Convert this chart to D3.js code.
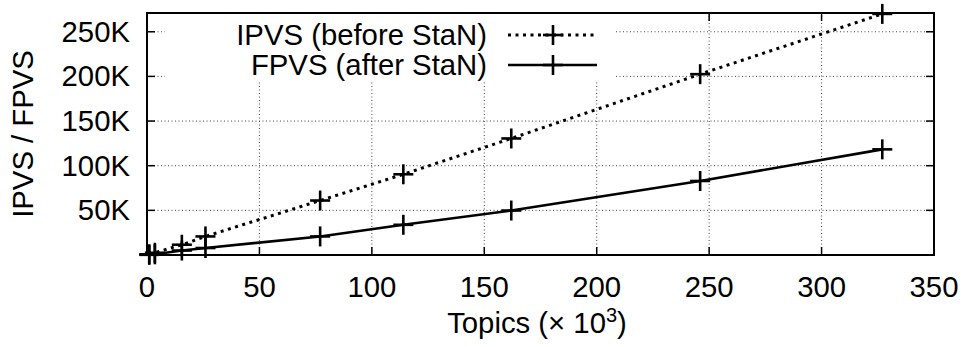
<!DOCTYPE html>
<html>
<head>
<meta charset="utf-8">
<script src="https://cdn.jsdelivr.net/npm/d3@7"></script>
<style>
  html, body { margin: 0; padding: 0; background: #fff; }
  svg { display: block; font-family: "Liberation Sans", Arial, Helvetica, sans-serif; }
</style>
</head>
<body>
<svg id="chart" width="965" height="347"></svg>
<script>
// Topics (thousands) and vocabulary sizes before / after StaN
const topics = [1, 3.5, 15.5, 26, 77, 114, 162, 246, 327];
const ipvs = [800, 2500, 11500, 20800, 61000, 90400, 130500, 202500, 270000];
const fpvs = [200, 800, 5000, 7800, 20800, 33800, 49800, 82900, 118300];
const xTicks = [0, 50, 100, 150, 200, 250, 300, 350];
const yTicks = [50000, 100000, 150000, 200000, 250000];
const seriesNames = ["IPVS (before StaN)", "FPVS (after StaN)"];

const svg = d3.select("#chart");
const m = { left: 147, right: 934, top: 13, bottom: 255 };
const fs = 29.3;

const x = d3.scaleLinear().domain([0, 350]).range([m.left, m.right]);
const y = d3.scaleLinear().domain([0, 271000]).range([m.bottom, m.top]);

// dotted grid
const grid = svg.append("g").attr("stroke", "#444").attr("stroke-width", 1)
  .attr("stroke-dasharray", "1,2.5");
grid.selectAll("line.gx").data(xTicks.filter(d => d > 0 && d < 350)).join("line")
  .attr("x1", d => x(d)).attr("x2", d => x(d))
  .attr("y1", m.bottom).attr("y2", m.top);
grid.selectAll("line.gy").data(yTicks).join("line")
  .attr("x1", m.left).attr("x2", m.right)
  .attr("y1", d => y(d)).attr("y2", d => y(d));

// inward ticks on all four sides
const tl = 8;
const ticks = svg.append("g").attr("stroke", "#000").attr("stroke-width", 1.5);
xTicks.forEach(d => {
  ticks.append("line").attr("x1", x(d)).attr("x2", x(d)).attr("y1", m.bottom).attr("y2", m.bottom - tl);
  ticks.append("line").attr("x1", x(d)).attr("x2", x(d)).attr("y1", m.top).attr("y2", m.top + tl);
});
yTicks.forEach(d => {
  ticks.append("line").attr("x1", m.left).attr("x2", m.left + tl).attr("y1", y(d)).attr("y2", y(d));
  ticks.append("line").attr("x1", m.right).attr("x2", m.right - tl).attr("y1", y(d)).attr("y2", y(d));
});

// tick labels
svg.append("g").selectAll("text").data(xTicks).join("text")
  .attr("x", d => x(d)).attr("y", 297).attr("text-anchor", "middle")
  .attr("font-size", fs).text(d => d);
svg.append("g").selectAll("text").data(yTicks).join("text")
  .attr("x", 130).attr("y", d => y(d) + 10).attr("text-anchor", "end")
  .attr("font-size", fs).text(d => d3.format("d")(d / 1000) + "K");

// axis titles
svg.append("text").attr("transform", "translate(33,134) rotate(-90)")
  .attr("text-anchor", "middle").attr("font-size", fs).text("IPVS / FPVS");
const xt = svg.append("text").attr("x", 537).attr("y", 333)
  .attr("text-anchor", "middle").attr("font-size", fs);
xt.append("tspan").text("Topics (× 10");
xt.append("tspan").attr("font-size", 20).attr("dy", -11).text("3");
xt.append("tspan").attr("dy", 11).text(")");

// legend background hides the grid beneath it
svg.append("rect").attr("x", 165).attr("y", m.top + 1).attr("width", 450).attr("height", 68)
  .attr("fill", "#fff");

// series
const line = d3.line().x(d => x(d[0])).y(d => y(d[1]));
const styles = [
  { data: ipvs, dash: "3,4.5", width: 3 },
  { data: fpvs, dash: null, width: 2.6 }
];
const cross = 10;
function drawCross(g, cx, cy) {
  g.append("line").attr("x1", cx - cross).attr("x2", cx + cross).attr("y1", cy).attr("y2", cy);
  g.append("line").attr("x1", cx).attr("x2", cx).attr("y1", cy - cross).attr("y2", cy + cross);
}
styles.forEach((s, i) => {
  const pts = topics.map((t, j) => [t, s.data[j]]);
  svg.append("path").datum(pts).attr("d", line).attr("fill", "none")
    .attr("stroke", "#000").attr("stroke-width", s.width)
    .attr("stroke-dasharray", s.dash);
  const g = svg.append("g").attr("stroke", "#000").attr("stroke-width", 2.6);
  pts.forEach(p => drawCross(g, x(p[0]), y(p[1])));

  // legend entry
  const ly = 35 + i * 30;
  svg.append("text").attr("x", 487).attr("y", ly + 10).attr("text-anchor", "end")
    .attr("font-size", fs).text(seriesNames[i]);
  svg.append("line").attr("x1", 508).attr("x2", 597).attr("y1", ly).attr("y2", ly)
    .attr("stroke", "#000").attr("stroke-width", s.width).attr("stroke-dasharray", s.dash);
  const lg = svg.append("g").attr("stroke", "#000").attr("stroke-width", 2.6);
  drawCross(lg, 553, ly);
});

// plot frame
svg.append("rect").attr("x", m.left).attr("y", m.top)
  .attr("width", m.right - m.left).attr("height", m.bottom - m.top)
  .attr("fill", "none").attr("stroke", "#000").attr("stroke-width", 2);
</script>
</body>
</html>
